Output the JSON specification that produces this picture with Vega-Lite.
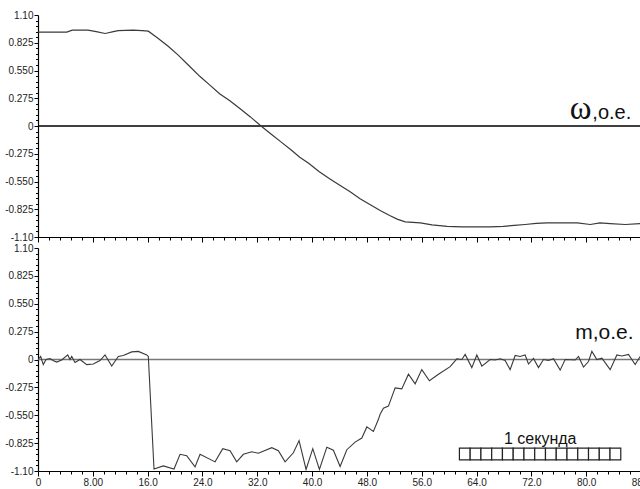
{
  "$schema": "https://vega.github.io/schema/vega-lite/v6.json",
  "background": "white",
  "padding": {"left": 4, "top": 10, "right": 0, "bottom": 0},
  "spacing": 11,
  "bounds": "flush",
  "config": {
    "view": {"stroke": null},
    "font": "Liberation Sans",
    "axis": {
      "labelFont": "Liberation Sans",
      "labelFontSize": 10,
      "labelColor": "#222",
      "domainColor": "#000",
      "domainWidth": 1.2,
      "tickColor": "#000",
      "grid": false,
      "title": null,
      "labelOverlap": false,
      "labelPadding": 1,
      "tickCount": 200
    }
  },
  "datasets": {
    "omega": [
      {"t": 0, "v": 0.93}, {"t": 2, "v": 0.93}, {"t": 4.2, "v": 0.93}, {"t": 5, "v": 0.95},
      {"t": 7.3, "v": 0.95}, {"t": 8.5, "v": 0.935}, {"t": 9.8, "v": 0.917}, {"t": 11, "v": 0.935},
      {"t": 11.7, "v": 0.945}, {"t": 13.9, "v": 0.95}, {"t": 15.2, "v": 0.945}, {"t": 16.1, "v": 0.94},
      {"t": 17.5, "v": 0.87}, {"t": 19, "v": 0.79}, {"t": 20.5, "v": 0.7}, {"t": 22, "v": 0.6},
      {"t": 23.65, "v": 0.49}, {"t": 25, "v": 0.41}, {"t": 26.5, "v": 0.32}, {"t": 28, "v": 0.25},
      {"t": 29.5, "v": 0.17}, {"t": 31, "v": 0.09}, {"t": 32.55, "v": 0}, {"t": 34, "v": -0.08},
      {"t": 35.5, "v": -0.16}, {"t": 37, "v": -0.24}, {"t": 38.2, "v": -0.31}, {"t": 39.5, "v": -0.37},
      {"t": 41, "v": -0.45}, {"t": 42.5, "v": -0.52}, {"t": 44.1, "v": -0.59}, {"t": 45.5, "v": -0.65},
      {"t": 47, "v": -0.72}, {"t": 48.5, "v": -0.78}, {"t": 50, "v": -0.84}, {"t": 51.4, "v": -0.89},
      {"t": 52.5, "v": -0.925}, {"t": 53.6, "v": -0.95}, {"t": 55.8, "v": -0.96}, {"t": 57.5, "v": -0.98},
      {"t": 59.7, "v": -0.995}, {"t": 61.8, "v": -1.0}, {"t": 63.8, "v": -1.0}, {"t": 66, "v": -1.0},
      {"t": 67.9, "v": -0.995}, {"t": 69.5, "v": -0.985}, {"t": 71.1, "v": -0.976}, {"t": 72.7, "v": -0.965},
      {"t": 74.3, "v": -0.96}, {"t": 76.5, "v": -0.96}, {"t": 78.7, "v": -0.96}, {"t": 80.6, "v": -0.976},
      {"t": 82, "v": -0.96}, {"t": 83.5, "v": -0.967}, {"t": 85.7, "v": -0.976}, {"t": 87.9, "v": -0.967}
    ],
    "torque": [
      {"t": 0, "v": 0}, {"t": 0.39, "v": 0.03}, {"t": 0.77, "v": -0.05}, {"t": 1.17, "v": 0},
      {"t": 1.75, "v": 0.01}, {"t": 2.19, "v": -0.01}, {"t": 2.73, "v": -0.025}, {"t": 3.46, "v": -0.005},
      {"t": 4.34, "v": 0.045}, {"t": 4.67, "v": 0}, {"t": 4.92, "v": 0.03}, {"t": 5.4, "v": -0.03},
      {"t": 6.13, "v": 0}, {"t": 7.11, "v": -0.05}, {"t": 8.07, "v": -0.045}, {"t": 9.05, "v": -0.01},
      {"t": 9.78, "v": 0.045}, {"t": 10.76, "v": -0.065}, {"t": 11.72, "v": 0.03}, {"t": 12.45, "v": 0.04},
      {"t": 13.68, "v": 0.075}, {"t": 14.64, "v": 0.08}, {"t": 15.87, "v": 0.045}, {"t": 16.1, "v": 0.03},
      {"t": 16.93, "v": -1.08}, {"t": 18.29, "v": -1.05}, {"t": 19.85, "v": -1.08}, {"t": 20.73, "v": -0.935},
      {"t": 21.7, "v": -0.95}, {"t": 22.92, "v": -1.06}, {"t": 23.65, "v": -0.935}, {"t": 25.84, "v": -1.01},
      {"t": 26.96, "v": -0.88}, {"t": 28.03, "v": -0.9}, {"t": 29.0, "v": -1.01}, {"t": 29.97, "v": -0.935},
      {"t": 31.2, "v": -0.91}, {"t": 32.16, "v": -0.925}, {"t": 34.12, "v": -0.87}, {"t": 35.08, "v": -0.9},
      {"t": 36.06, "v": -1.01}, {"t": 37.27, "v": -0.92}, {"t": 38.1, "v": -0.8}, {"t": 39.12, "v": -1.085},
      {"t": 40.1, "v": -0.88}, {"t": 41.07, "v": -1.085}, {"t": 42.15, "v": -0.865}, {"t": 43.11, "v": -0.895},
      {"t": 44.09, "v": -1.055}, {"t": 45.07, "v": -0.89}, {"t": 46.28, "v": -0.815}, {"t": 47.26, "v": -0.775},
      {"t": 47.99, "v": -0.665}, {"t": 48.95, "v": -0.71}, {"t": 49.68, "v": -0.59}, {"t": 49.93, "v": -0.54},
      {"t": 50.41, "v": -0.48}, {"t": 51.14, "v": -0.46}, {"t": 52.12, "v": -0.28}, {"t": 53.09, "v": -0.29},
      {"t": 54.06, "v": -0.145}, {"t": 55.04, "v": -0.24}, {"t": 56.01, "v": -0.1}, {"t": 57.12, "v": -0.21},
      {"t": 58.44, "v": -0.145}, {"t": 60.15, "v": -0.07}, {"t": 61.12, "v": 0.007}, {"t": 61.85, "v": 0},
      {"t": 62.34, "v": 0.05}, {"t": 63.31, "v": -0.08}, {"t": 64.04, "v": 0.045}, {"t": 64.77, "v": -0.065},
      {"t": 65.99, "v": 0}, {"t": 66.7, "v": -0.005}, {"t": 67.45, "v": 0.007}, {"t": 68.17, "v": -0.01},
      {"t": 68.9, "v": -0.1}, {"t": 69.64, "v": 0.04}, {"t": 70.36, "v": 0.03}, {"t": 71.09, "v": 0.045},
      {"t": 71.58, "v": -0.045}, {"t": 72.31, "v": 0.01}, {"t": 73.04, "v": -0.08}, {"t": 73.77, "v": 0},
      {"t": 74.5, "v": -0.01}, {"t": 75.23, "v": 0.007}, {"t": 76.2, "v": -0.105}, {"t": 76.93, "v": 0},
      {"t": 78.39, "v": -0.005}, {"t": 78.88, "v": 0.03}, {"t": 79.61, "v": -0.075}, {"t": 80.34, "v": -0.02},
      {"t": 80.83, "v": 0.08}, {"t": 81.56, "v": 0}, {"t": 82.29, "v": 0.013}, {"t": 83.5, "v": -0.1},
      {"t": 84.48, "v": 0.045}, {"t": 85.21, "v": 0.035}, {"t": 86.17, "v": 0.05}, {"t": 87.15, "v": -0.05},
      {"t": 87.88, "v": 0.03}
    ],
    "scalebar": [
      {"a": 61.5, "b": 63.07}, {"a": 63.07, "b": 64.64}, {"a": 64.64, "b": 66.21}, {"a": 66.21, "b": 67.78},
      {"a": 67.78, "b": 69.35}, {"a": 69.35, "b": 70.92}, {"a": 70.92, "b": 72.49}, {"a": 72.49, "b": 74.06},
      {"a": 74.06, "b": 75.63}, {"a": 75.63, "b": 77.2}, {"a": 77.2, "b": 78.77}, {"a": 78.77, "b": 80.34},
      {"a": 80.34, "b": 81.91}, {"a": 81.91, "b": 83.48}, {"a": 83.48, "b": 85.05}
    ]
  },
  "vconcat": [
    {
      "width": 603,
      "height": 222,
      "layer": [
        {
          "data": {"values": [{"z": 0}]},
          "mark": {"type": "rule", "color": "#000", "strokeWidth": 1.6},
          "encoding": {"y": {"field": "z", "type": "quantitative"}}
        },
        {
          "data": {"name": "omega"},
          "mark": {"type": "line", "color": "#3a3a3a", "strokeWidth": 1.2},
          "encoding": {
            "x": {"field": "t", "type": "quantitative",
              "scale": {"domain": [0, 88], "nice": false, "zero": false},
              "axis": {
                "values": [0,1.6,3.2,4.8,6.4,8,9.6,11.2,12.8,14.4,16,17.6,19.2,20.8,22.4,24,25.6,27.2,28.8,30.4,32,33.6,35.2,36.8,38.4,40,41.6,43.2,44.8,46.4,48,49.6,51.2,52.8,54.4,56,57.6,59.2,60.8,62.4,64,65.6,67.2,68.8,70.4,72,73.6,75.2,76.8,78.4,80,81.6,83.2,84.8,86.4,88],
                "tickCount": 200,
                "labels": false,
                "labelFlush": false,
                "labelOverlap": false,
                "tickSize": {"condition": {"test": "abs(datum.value/8 - round(datum.value/8)) < 0.01", "value": 5}, "value": 3}
              }
            },
            "y": {"field": "v", "type": "quantitative",
              "scale": {"domain": [-1.1, 1.1], "nice": false, "zero": false},
              "axis": {
                "values": [-1.1,-1.045,-0.99,-0.935,-0.88,-0.825,-0.77,-0.715,-0.66,-0.605,-0.55,-0.495,-0.44,-0.385,-0.33,-0.275,-0.22,-0.165,-0.11,-0.055,0,0.055,0.11,0.165,0.22,0.275,0.33,0.385,0.44,0.495,0.55,0.605,0.66,0.715,0.77,0.825,0.88,0.935,0.99,1.045,1.1],
                "tickCount": 200,
                "labelOverlap": false,
                "labelExpr": "abs(datum.value/0.275 - round(datum.value/0.275)) < 0.01 ? (abs(datum.value) < 0.001 ? '0' : replace(format(datum.value, abs(datum.value) > 1.05 ? '.2f' : '.3f'), '\u2212', '-')) : ''",
                "tickSize": {"condition": {"test": "abs(datum.value/0.275 - round(datum.value/0.275)) < 0.01", "value": 4}, "value": 2.5}
              }
            }
          }
        },
        {
          "data": {"values": [{"t": 77.6, "v": 0.07, "s": "ω"}]},
          "mark": {"type": "text", "font": "Liberation Serif", "fontSize": 33, "align": "left", "baseline": "alphabetic", "color": "#111"},
          "encoding": {"x": {"field": "t", "type": "quantitative"}, "y": {"field": "v", "type": "quantitative"}, "text": {"field": "s"}}
        },
        {
          "data": {"values": [{"t": 80.9, "v": 0.07, "s": ",o.e."}]},
          "mark": {"type": "text", "font": "Liberation Sans", "fontSize": 20, "align": "left", "baseline": "alphabetic", "color": "#111"},
          "encoding": {"x": {"field": "t", "type": "quantitative"}, "y": {"field": "v", "type": "quantitative"}, "text": {"field": "s"}}
        }
      ]
    },
    {
      "width": 603,
      "height": 223,
      "layer": [
        {
          "data": {"values": [{"z": 0}]},
          "mark": {"type": "rule", "color": "#777", "strokeWidth": 1.6},
          "encoding": {"y": {"field": "z", "type": "quantitative"}}
        },
        {
          "data": {"name": "torque"},
          "mark": {"type": "line", "color": "#3a3a3a", "strokeWidth": 1.1},
          "encoding": {
            "x": {"field": "t", "type": "quantitative",
              "scale": {"domain": [0, 88], "nice": false, "zero": false},
              "axis": {
                "values": [0,1.6,3.2,4.8,6.4,8,9.6,11.2,12.8,14.4,16,17.6,19.2,20.8,22.4,24,25.6,27.2,28.8,30.4,32,33.6,35.2,36.8,38.4,40,41.6,43.2,44.8,46.4,48,49.6,51.2,52.8,54.4,56,57.6,59.2,60.8,62.4,64,65.6,67.2,68.8,70.4,72,73.6,75.2,76.8,78.4,80,81.6,83.2,84.8,86.4,88],
                "tickCount": 200,
                "labelFlush": false,
                "labelOverlap": false,
                "labelExpr": "abs(datum.value/8 - round(datum.value/8)) < 0.01 ? (datum.value < 0.001 ? '0' : format(datum.value, datum.value < 9 ? '.2f' : '.1f')) : ''",
                "tickSize": {"condition": {"test": "abs(datum.value/8 - round(datum.value/8)) < 0.01", "value": 5}, "value": 3}
              }
            },
            "y": {"field": "v", "type": "quantitative",
              "scale": {"domain": [-1.1, 1.1], "nice": false, "zero": false},
              "axis": {
                "values": [-1.1,-1.045,-0.99,-0.935,-0.88,-0.825,-0.77,-0.715,-0.66,-0.605,-0.55,-0.495,-0.44,-0.385,-0.33,-0.275,-0.22,-0.165,-0.11,-0.055,0,0.055,0.11,0.165,0.22,0.275,0.33,0.385,0.44,0.495,0.55,0.605,0.66,0.715,0.77,0.825,0.88,0.935,0.99,1.045,1.1],
                "tickCount": 200,
                "labelOverlap": false,
                "labelExpr": "abs(datum.value/0.275 - round(datum.value/0.275)) < 0.01 ? (abs(datum.value) < 0.001 ? '0' : replace(format(datum.value, abs(datum.value) > 1.05 ? '.2f' : '.3f'), '\u2212', '-')) : ''",
                "tickSize": {"condition": {"test": "abs(datum.value/0.275 - round(datum.value/0.275)) < 0.01", "value": 4}, "value": 2.5}
              }
            }
          }
        },
        {
          "data": {"name": "scalebar"},
          "mark": {"type": "rect", "fill": "white", "stroke": "#222", "strokeWidth": 1.2},
          "encoding": {
            "x": {"field": "a", "type": "quantitative"},
            "x2": {"field": "b"},
            "y": {"datum": -0.875, "type": "quantitative"},
            "y2": {"datum": -0.99}
          }
        },
        {
          "data": {"values": [{"t": 73.3, "v": -0.78, "s": "1 секунда"}]},
          "mark": {"type": "text", "font": "Liberation Sans", "fontSize": 16, "align": "center", "baseline": "middle", "color": "#111"},
          "encoding": {"x": {"field": "t", "type": "quantitative"}, "y": {"field": "v", "type": "quantitative"}, "text": {"field": "s"}}
        },
        {
          "data": {"values": [{"t": 78.4, "v": 0.2, "s": "m,o.e."}]},
          "mark": {"type": "text", "font": "Liberation Sans", "fontSize": 21, "align": "left", "baseline": "alphabetic", "color": "#111"},
          "encoding": {"x": {"field": "t", "type": "quantitative"}, "y": {"field": "v", "type": "quantitative"}, "text": {"field": "s"}}
        }
      ]
    }
  ]
}
